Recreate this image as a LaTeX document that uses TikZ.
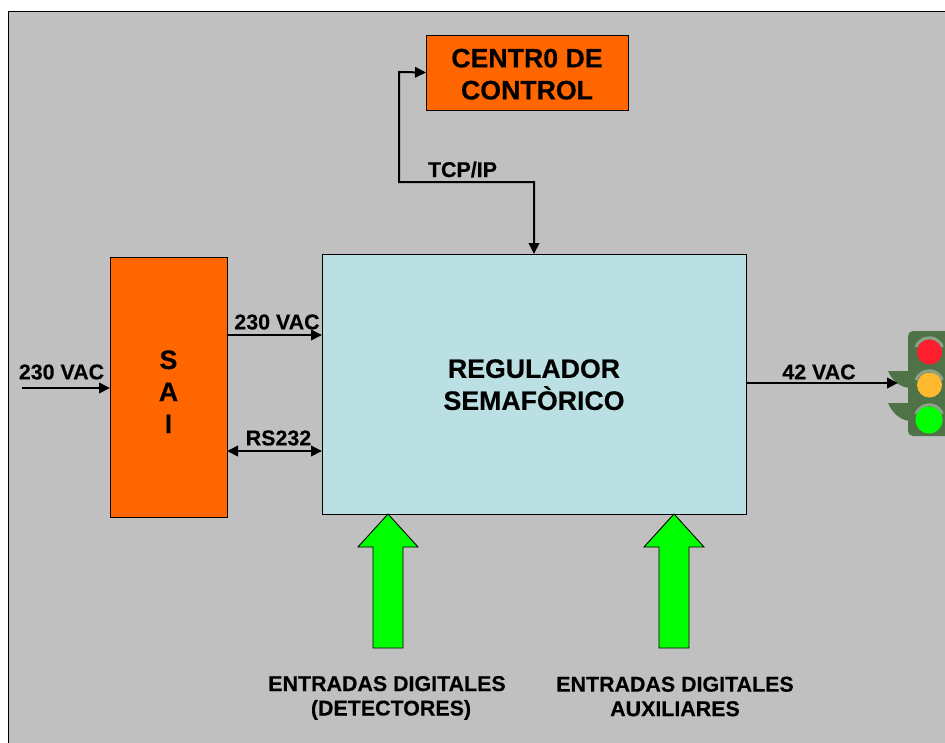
\documentclass[tikz,border=0pt]{standalone}
\usepackage{fontspec}
\setmainfont[BoldFeatures={FakeBold=0.35}]{Liberation Sans}
\usetikzlibrary{arrows.meta}
\definecolor{bggrey}{HTML}{C0C0C0}
\definecolor{boxorange}{HTML}{FF6600}
\definecolor{boxblue}{HTML}{BBE0E3}
\definecolor{arrowgreen}{HTML}{00FF00}
\definecolor{lightbody}{HTML}{4F7247}
\definecolor{visor}{HTML}{8DA288}
\definecolor{lampred}{HTML}{FF1E2D}
\definecolor{lampamber}{HTML}{FFB92E}
\tikzset{
  blockbox/.style={draw=black,line width=0.8pt,inner sep=0pt,outer sep=0pt,align=center,font=\bfseries},
  orangebox/.style={blockbox,fill=boxorange},
  big/.style={font=\fontsize{26.7}{32}\selectfont\bfseries},
  lbl/.style={font=\fontsize{21.4}{24.5}\selectfont\bfseries,inner sep=0pt,align=center},
  wire/.style={line width=2pt,-{Triangle[length=11pt,width=10.5pt]}},
  wirebi/.style={line width=2pt,{Triangle[length=11pt,width=10.5pt]}-{Triangle[length=11pt,width=10.5pt]}},
  fatarrow/.style={draw=black,line width=0.9pt,fill=arrowgreen,line join=miter},
  lamp/.style={circle,inner sep=0pt,outer sep=0pt},
}
\begin{document}
\begin{tikzpicture}[x=1pt,y=-1pt]
\useasboundingbox (0,0) rectangle (945,742);
\clip (0,0) rectangle (945,742);
\fill[white] (0,0) rectangle (945,742);
\path[fill=bggrey,draw=black,line width=1pt] (8.5,11) rectangle (970,770);

% blocks
\node[orangebox,big,minimum width=202pt,minimum height=75pt] (ctrl) at (527,72.5) {\rule{0pt}{22pt}CENTR0 DE\\CONTROL};
\node[blockbox,fill=boxblue,big,minimum width=424pt,minimum height=260pt] (reg) at (534,384) {\rule{0pt}{20pt}REGULADOR\\SEMAFÒRICO};
\node[orangebox,big,minimum width=117pt,minimum height=259.5pt] (sai) at (168.5,387.5) {\rule{0pt}{27pt}S\\A\\I};

% free ends
\coordinate (in) at (22,388);
\coordinate (out) at (898,383);
\coordinate (tcpa) at (534,182);
\coordinate (tcpb) at (399,182);
\coordinate (tcpc) at (399,72);

% connectors
\draw[wire] (in) -- (sai.west |- in);
\draw[wire] (sai.east |- 0,335) -- (reg.west |- 0,335);
\draw[wirebi] (sai.east |- 0,451) -- (reg.west |- 0,451);
\draw[line width=2pt,line join=miter,{Triangle[length=11pt,width=10.5pt]}-{Triangle[length=11pt,width=10.5pt]}] (reg.north) -- (tcpa) -- (tcpb) -- (tcpc) -- (ctrl.west);

% labels
\node[lbl] (l1) at (61.5,372) {230 VAC};
\node[lbl] (l2) at (277,322) {230 VAC};
\node[lbl] (l3) at (278.5,438) {RS232};
\node[lbl] (l4) at (819,372) {42 VAC};
\node[lbl] (l5) at (462.5,169.5) {TCP/IP};
\node[lbl] (l6) at (387,698) {ENTRADAS DIGITALES\\\hspace*{8pt}(DETECTORES)};
\node[lbl] (l7) at (675,696.5) {ENTRADAS DIGITALES\\AUXILIARES};

% green arrows
\path[fatarrow] (388,514) -- (418,547) -- (403,547) -- (403,648) -- (373,648) -- (373,547) -- (358,547) -- cycle;
\path[fatarrow] (674,514) -- (704,547) -- (689,547) -- (689,648) -- (659,648) -- (659,547) -- (644,547) -- cycle;

% traffic light
\fill[lightbody,rounded corners=5pt] (908,331) rectangle (965,436);
\fill[lightbody] (888,371) -- (910,371) -- (910,388) .. controls (899,387) and (892,380) .. (888,371) -- cycle;
\fill[lightbody] (888,403) -- (910,403) -- (910,421) .. controls (899,420) and (892,412) .. (888,403) -- cycle;
\draw[visor,line width=3pt] (916,347) arc[start angle=200,end angle=340,radius=14];
\draw[visor,line width=3pt] (916,380) arc[start angle=200,end angle=340,radius=14];
\draw[visor,line width=3pt] (916,414) arc[start angle=200,end angle=340,radius=14];
\node[lamp,fill=lampred,minimum size=25pt] (red) at (929.5,352) {};
\node[lamp,fill=lampamber,minimum size=25pt] (amber) at (929.5,385) {};
\node[lamp,fill=arrowgreen,minimum size=27pt] (green) at (929,420) {};
\draw[wire] (reg.east |- out) -- (out);
\end{tikzpicture}
\end{document}
